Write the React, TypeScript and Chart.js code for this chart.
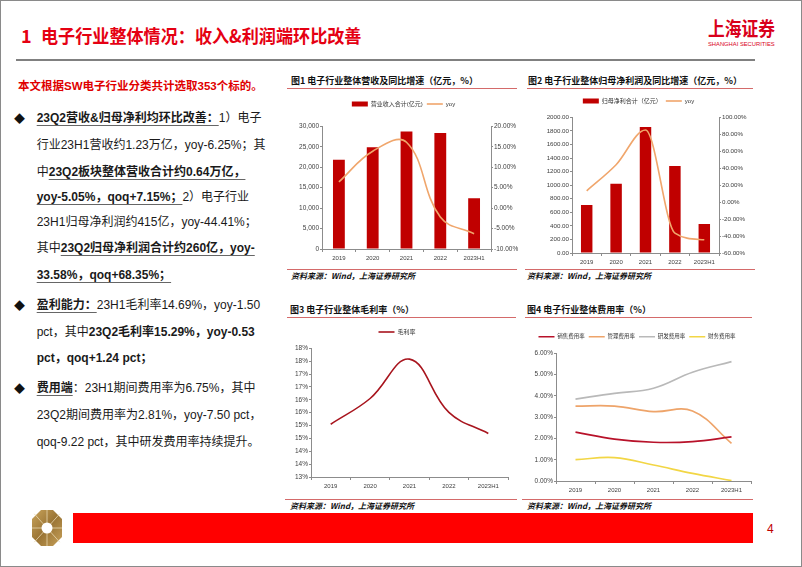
import React, { useEffect, useRef } from 'react';
import { Chart, registerables } from 'chart.js';

Chart.register(...registerables);

// ---------------- data ----------------
const categories = ['2019', '2020', '2021', '2022', '2023H1'];

const revenueLabel = '营业收入合计(亿元)';
const revenue = [21800, 24850, 28750, 28350, 12400];
const revenueYoyLabel = 'yoy';
const revenueYoy = [6.4, 13.9, 16.1, -2.2, -6.25];

const profitLabel = '归母净利合计（亿元）';
const netProfit = [706, 1020, 1858, 1284, 426];
const profitYoyLabel = 'yoy';
const netProfitYoy = [13.3, 44.0, 85.0, -36.5, -44.41];

const marginLabel = '毛利率';
const grossMargin = [15.05, 16.05, 17.58, 15.51, 14.69];

const expenseLabels = ['销售费用率', '管理费用率', '研发费用率', '财务费用率'];
const sellingRate = [2.3, 1.97, 1.82, 1.85, 2.07];
const adminRate = [3.52, 3.52, 3.26, 3.29, 1.77];
const rdRate = [3.85, 4.12, 4.36, 5.11, 5.61];
const financeRate = [1.0, 1.1, 0.75, 0.36, 0.02];

const revenueAxis = [0, 30000, 5000];
const revenueYoyAxis = [-10, 20, 5];
const profitAxis = [0, 2000, 200];
const profitYoyAxis = [-60, 100, 20];
const marginAxis = [13, 18, 0.5];
const expenseAxis = [0, 6, 1];

// ---------------- styles ----------------
const LATIN = "'Liberation Sans', Arial, sans-serif";
const MIXED = "'Liberation Sans', 'Noto Sans CJK SC', sans-serif";
const CJK = "'Noto Sans CJK SC', 'Liberation Sans', sans-serif";
const AXIS = '#8c8c8c';
const TICK = '#404040';
const BAR_RED = '#C00000';
const YOY = '#F0A66C';

const fmtThousands = (v: number) => Math.round(v).toLocaleString('en-US');
const fmtPct2 = (v: number) => v.toFixed(2) + '%';
const fmtFixed2 = (v: number) => v.toFixed(2);
const fmtPct0 = (v: number) => Math.round(v) + '%';

const border = { display: true, color: AXIS, width: 1 };

function xScale() {
  return {
    type: 'category',
    offset: true,
    grid: { display: true, drawOnChartArea: false, drawTicks: true, tickLength: 3, color: AXIS, lineWidth: 1, offset: true },
    border,
    ticks: { font: { family: LATIN, size: 6 }, color: TICK, padding: 3, maxRotation: 0, autoSkip: false },
    afterFit: (s: any) => { s.height = 16; },
  };
}

function yScale(position: string, axis: number[], fmt: (v: number) => string, width: number, size = 6.5) {
  return {
    position,
    min: axis[0],
    max: axis[1],
    grid: { display: true, drawOnChartArea: false, drawTicks: true, tickLength: 2, color: AXIS, lineWidth: 1 },
    border,
    ticks: {
      stepSize: axis[2],
      autoSkip: false,
      padding: 1,
      color: TICK,
      font: { family: LATIN, size },
      callback: (v: any) => fmt(Number(v)),
    },
    afterFit: (s: any) => { s.width = width; },
  };
}

function legendOpts(size: number) {
  return {
    display: true,
    position: 'top',
    align: 'center',
    weight: 1000,
    labels: {
      usePointStyle: true,
      pointStyleWidth: 16,
      boxHeight: 5,
      padding: 4,
      color: '#333',
      font: { family: MIXED, size },
      sort: (a: any, b: any) => a.datasetIndex - b.datasetIndex,
      generateLabels: (chart: any) => {
        const base = (Chart.defaults as any).plugins.legend.labels.generateLabels(chart);
        return base.map((item: any) => {
          const ds = chart.data.datasets[item.datasetIndex];
          const isBar = (ds.type || chart.config.type) === 'bar';
          const c = isBar ? ds.backgroundColor : ds.borderColor;
          return {
            ...item,
            pointStyle: isBar ? 'rect' : 'line',
            lineWidth: isBar ? 0 : 1.6,
            fillStyle: c,
            strokeStyle: c,
            fontColor: '#333',
          };
        });
      },
    },
  };
}

function spacer(pad: number) {
  return { display: true, text: '', font: { size: 1, lineHeight: 1 }, padding: { top: pad, bottom: 0 }, weight: 500 };
}

const common = {
  responsive: false,
  animation: false,
  devicePixelRatio: 1,
  events: [],
};

function revenueConfig(): any {
  return {
    type: 'bar',
    data: {
      labels: categories,
      datasets: [
        { type: 'bar', label: revenueLabel, data: revenue, backgroundColor: BAR_RED, yAxisID: 'y', order: 1, barPercentage: 0.35, categoryPercentage: 1 },
        { type: 'line', label: revenueYoyLabel, data: revenueYoy, borderColor: YOY, backgroundColor: YOY, borderWidth: 1.6, pointRadius: 0, tension: 0.4, yAxisID: 'y1', order: 0 },
      ],
    },
    options: {
      ...common,
      layout: { padding: 0 },
      plugins: { legend: legendOpts(6), subtitle: spacer(8.3), tooltip: { enabled: false } },
      scales: {
        x: xScale(),
        y: yScale('left', revenueAxis, fmtThousands, 36),
        y1: yScale('right', revenueYoyAxis, fmtPct2, 30),
      },
    },
  };
}

function profitConfig(): any {
  return {
    type: 'bar',
    data: {
      labels: categories,
      datasets: [
        { type: 'bar', label: profitLabel, data: netProfit, backgroundColor: BAR_RED, yAxisID: 'y', order: 1, barPercentage: 0.39, categoryPercentage: 1 },
        { type: 'line', label: profitYoyLabel, data: netProfitYoy, borderColor: YOY, backgroundColor: YOY, borderWidth: 1.6, pointRadius: 0, cubicInterpolationMode: 'monotone', yAxisID: 'y1', order: 0 },
      ],
    },
    options: {
      ...common,
      layout: { padding: 0 },
      plugins: { legend: legendOpts(6), subtitle: spacer(2.3), tooltip: { enabled: false } },
      scales: {
        x: xScale(),
        y: yScale('left', profitAxis, fmtFixed2, 49, 6.2),
        y1: yScale('right', profitYoyAxis, fmtPct2, 35, 6.2),
      },
    },
  };
}

function marginConfig(): any {
  return {
    type: 'line',
    data: {
      labels: categories,
      datasets: [
        { label: marginLabel, data: grossMargin, borderColor: '#A8151E', backgroundColor: '#A8151E', borderWidth: 1.6, pointRadius: 0, tension: 0.4 },
      ],
    },
    options: {
      ...common,
      layout: { padding: { right: 7 } },
      plugins: { legend: legendOpts(6), subtitle: spacer(2.3), tooltip: { enabled: false } },
      scales: {
        x: xScale(),
        y: yScale('left', marginAxis, fmtPct0, 25),
      },
    },
  };
}

function expenseConfig(): any {
  const colors = ['#B8122A', '#EEA46A', '#B9B9B9', '#F2D645'];
  const series = [sellingRate, adminRate, rdRate, financeRate];
  return {
    type: 'line',
    data: {
      labels: categories,
      datasets: series.map((d, i) => ({
        label: expenseLabels[i], data: d, borderColor: colors[i], backgroundColor: colors[i], borderWidth: 1.7, pointRadius: 0, tension: 0.4,
      })),
    },
    options: {
      ...common,
      layout: { padding: { right: 6 } },
      plugins: { legend: legendOpts(5.5), subtitle: spacer(2.8), tooltip: { enabled: false } },
      scales: {
        x: xScale(),
        y: yScale('left', expenseAxis, fmtPct2, 33),
      },
    },
  };
}

// ---------------- layout helpers ----------------
type Seg = { t: string; b?: boolean; u?: boolean };
const textLines: { y: number; bullet?: boolean; segs: Seg[] }[] = [
  { y: 118.3, bullet: true, segs: [{ t: '23Q2营收&归母净利均环比改善：', b: true, u: true }, { t: '1）电子' }] },
  { y: 145, segs: [{ t: '行业23H1营收约1.23万亿，yoy-6.25%；其' }] },
  { y: 171.7, segs: [{ t: '中' }, { t: '23Q2板块整体营收合计约0.64万亿，', b: true, u: true }] },
  { y: 196.7, segs: [{ t: 'yoy-5.05%，qoq+7.15%；', b: true, u: true }, { t: '2）电子行业' }] },
  { y: 221.7, segs: [{ t: '23H1归母净利润约415亿，yoy-44.41%；' }] },
  { y: 248.3, segs: [{ t: '其中' }, { t: '23Q2归母净利润合计约260亿，yoy-', b: true, u: true }] },
  { y: 275, segs: [{ t: '33.58%，qoq+68.35%；', b: true, u: true }] },
  { y: 305, bullet: true, segs: [{ t: '盈利能力：', b: true, u: true }, { t: '23H1毛利率14.69%，yoy-1.50' }] },
  { y: 331.7, segs: [{ t: 'pct，其中' }, { t: '23Q2毛利率15.29%，yoy-0.53', b: true }] },
  { y: 358.3, segs: [{ t: 'pct，qoq+1.24 pct；', b: true }] },
  { y: 388.3, bullet: true, segs: [{ t: '费用端', b: true, u: true }, { t: '：23H1期间费用率为6.75%，其中' }] },
  { y: 415, segs: [{ t: '23Q2期间费用率为2.81%，yoy-7.50 pct，' }] },
  { y: 441.7, segs: [{ t: 'qoq-9.22 pct，其中研发费用率持续提升。' }] },
];

const abs = (left: number, top: number, extra: any = {}): React.CSSProperties => ({ position: 'absolute', left, top, ...extra });

function HLine({ x1, x2, y, color, h = 1 }: { x1: number; x2: number; y: number; color: string; h?: number }) {
  return <div style={abs(x1, y - h / 2, { width: x2 - x1, height: h, background: color })} />;
}

function Heading({ x, y, text }: { x: number; y: number; text: string }) {
  return (
    <div style={abs(x, y - 7, { fontFamily: CJK, fontWeight: 700, fontSize: 9, lineHeight: '14px', color: '#111', whiteSpace: 'nowrap' })}>{text}</div>
  );
}

function Source({ x, y }: { x: number; y: number }) {
  return (
    <div style={abs(x, y - 6, { fontFamily: CJK, fontWeight: 700, fontStyle: 'italic', fontSize: 8, lineHeight: '12px', color: '#111', whiteSpace: 'nowrap' })}>
      资料来源：Wind，上海证券研究所
    </div>
  );
}

function Logo() {
  const rays = [0, 45, 90, 135, 180, 225, 270, 315];
  return (
    <svg style={abs(32, 510)} width={30} height={36} viewBox="0 0 30 36">
      <defs>
        <linearGradient id="gold" x1="0" y1="0" x2="1" y2="1">
          <stop offset="0" stopColor="#C9A45C" />
          <stop offset="0.5" stopColor="#9A7434" />
          <stop offset="1" stopColor="#C7A15A" />
        </linearGradient>
      </defs>
      <polygon points="9,0 21,0 30,9 30,27 21,36 9,36 0,27 0,9" fill="url(#gold)" />
      {rays.map((a) => {
        const r = (a * Math.PI) / 180;
        return <line key={a} x1={15} y1={18} x2={15 + Math.cos(r) * 18} y2={18 + Math.sin(r) * 20} stroke="#E8D7AE" strokeWidth={0.8} />;
      })}
      <circle cx={15} cy={18} r={5.5} fill="#fff" />
    </svg>
  );
}

export default function App() {
  const c1 = useRef<HTMLCanvasElement>(null);
  const c2 = useRef<HTMLCanvasElement>(null);
  const c3 = useRef<HTMLCanvasElement>(null);
  const c4 = useRef<HTMLCanvasElement>(null);

  useEffect(() => {
    const charts = [
      new Chart(c1.current as HTMLCanvasElement, revenueConfig()),
      new Chart(c2.current as HTMLCanvasElement, profitConfig()),
      new Chart(c3.current as HTMLCanvasElement, marginConfig()),
      new Chart(c4.current as HTMLCanvasElement, expenseConfig()),
    ];
    return () => charts.forEach((c) => c.destroy());
  }, []);

  const redLine = '#D46A6A';

  return (
    <div style={{ position: 'absolute', left: 0, top: 0, width: 802, height: 567, background: '#fff', overflow: 'hidden', fontFamily: MIXED }}>
      {/* header */}
      <div style={abs(21, 25, { fontFamily: CJK, fontWeight: 700, fontSize: 18, lineHeight: '20px', color: '#E50012', whiteSpace: 'nowrap' })}>1</div>
      <div style={abs(41, 25, { fontFamily: CJK, fontWeight: 700, fontSize: 18, lineHeight: '20px', color: '#E50012', whiteSpace: 'nowrap', transform: 'scaleX(0.95)', transformOrigin: 'left center' })}>
        电子行业整体情况：收入&amp;利润端环比改善
      </div>
      <div style={abs(708, 17, { fontFamily: CJK, fontWeight: 700, fontSize: 19, lineHeight: '22px', color: '#D9001B', whiteSpace: 'nowrap', transform: 'scaleX(0.88)', transformOrigin: 'left center' })}>
        上海证券
      </div>
      <div style={abs(708, 41, { fontFamily: LATIN, fontSize: 5.8, lineHeight: '7px', color: '#D9001B', whiteSpace: 'nowrap' })}>SHANGHAI SECURITIES</div>
      <HLine x1={16} x2={755} y={60} color="#808080" h={1.5} />

      {/* left text */}
      <div style={abs(18, 76, { fontFamily: MIXED, fontWeight: 700, fontSize: 11.5, lineHeight: '20px', color: '#E00000', whiteSpace: 'nowrap' })}>
        本文根据SW电子行业分类共计选取353个标的。
      </div>
      {textLines.map((ln, i) => (
        <React.Fragment key={i}>
          {ln.bullet && <div style={abs(14, ln.y - 10, { fontFamily: CJK, fontSize: 11, lineHeight: '20px', color: '#111' })}>◆</div>}
          <div style={abs(36.7, ln.y - 10, { fontFamily: MIXED, fontSize: 12, lineHeight: '20px', color: '#1a1a1a', whiteSpace: 'nowrap' })}>
            {ln.segs.map((s, j) => (
              <span
                key={j}
                style={{
                  fontWeight: s.b ? 700 : 400,
                  textDecoration: s.u ? 'underline' : 'none',
                  textDecorationColor: '#666',
                  textUnderlineOffset: '3px',
                  textDecorationThickness: '1px',
                }}
              >
                {s.t}
              </span>
            ))}
          </div>
        </React.Fragment>
      ))}

      {/* chart 1 */}
      <Heading x={291} y={80.5} text="图1 电子行业整体营收及同比增速（亿元，%）" />
      <HLine x1={287} x2={517} y={88.3} color={redLine} />
      <canvas ref={c1} width={235} height={168} style={abs(286, 97)} />
      <HLine x1={287} x2={517} y={269} color={redLine} />
      <Source x={291} y={276} />

      {/* chart 2 */}
      <Heading x={528} y={80.5} text="图2 电子行业整体归母净利润及同比增速（亿元，%）" />
      <HLine x1={527} x2={753} y={88.3} color={redLine} />
      <canvas ref={c2} width={231} height={175} style={abs(523, 94)} />
      <HLine x1={525} x2={755} y={269.3} color={redLine} />
      <Source x={527} y={276} />

      {/* chart 3 */}
      <Heading x={290} y={310} text="图3 电子行业整体毛利率（%）" />
      <HLine x1={287} x2={516} y={317.7} color={redLine} />
      <canvas ref={c3} width={229} height={168} style={abs(286, 325)} />
      <HLine x1={285} x2={517} y={499} color={redLine} />
      <Source x={290} y={506} />

      {/* chart 4 */}
      <Heading x={527} y={310} text="图4 电子行业整体费用率（%）" />
      <HLine x1={525} x2={752} y={317.7} color={redLine} />
      <canvas ref={c4} width={234} height={167} style={abs(523, 330)} />
      <HLine x1={522} x2={753} y={499} color={redLine} />
      <Source x={527} y={506} />

      {/* footer */}
      <Logo />
      <div style={abs(73, 513, { width: 680, height: 30, background: '#FF0000' })} />
      <div style={abs(767, 521, { fontFamily: LATIN, fontSize: 12, lineHeight: '16px', color: '#C00000' })}>4</div>

      {/* page frame */}
      <div style={{ position: 'absolute', left: 0, top: 0, width: 802, height: 567, boxSizing: 'border-box', border: '1.5px solid #8a8a8a', pointerEvents: 'none' }} />
    </div>
  );
}
